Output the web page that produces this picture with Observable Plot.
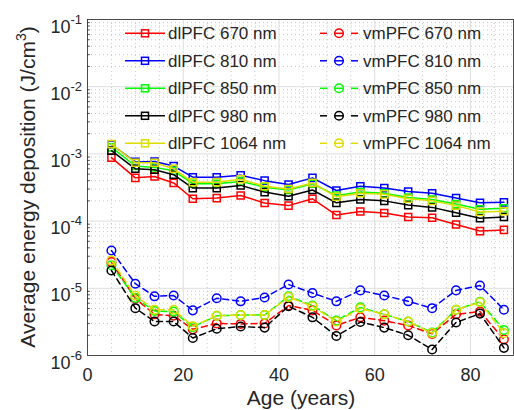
<!DOCTYPE html>
<html><head><meta charset="utf-8">
<script src="https://cdn.jsdelivr.net/npm/d3@7"></script>
<script src="https://cdn.jsdelivr.net/npm/@observablehq/plot@0.6"></script>
<style>
html,body{margin:0;padding:0;background:#fff;}
#chart{width:514px;height:410px;}
</style>
</head><body><div id="chart"></div>
<script>
const ages = [5,10,14,18,22,27,32,37,42,47,52,57,62,67,72,77,82,87];

const dl670  = [8.8e-4,4.4e-4,4.6e-4,3.7e-4,2.15e-4,2.2e-4,2.4e-4,1.86e-4,1.7e-4,2.15e-4,1.23e-4,1.39e-4,1.32e-4,1.15e-4,1.12e-4,8.9e-5,7.1e-5,7.4e-5];
const dl810  = [1.38e-3,7.6e-4,7.7e-4,6.6e-4,4.5e-4,4.5e-4,4.8e-4,4.0e-4,3.5e-4,4.4e-4,2.85e-4,3.3e-4,3.1e-4,2.75e-4,2.6e-4,2.2e-4,1.87e-4,1.9e-4];
const dl850  = [1.25e-3,6.6e-4,6.3e-4,5.6e-4,3.6e-4,3.6e-4,3.9e-4,3.2e-4,2.9e-4,3.6e-4,2.4e-4,2.7e-4,2.6e-4,2.25e-4,2.1e-4,1.8e-4,1.5e-4,1.55e-4];
const dl980  = [1.12e-3,6.0e-4,5.8e-4,4.9e-4,3.1e-4,3.1e-4,3.4e-4,2.7e-4,2.35e-4,2.9e-4,1.87e-4,2.1e-4,2.0e-4,1.73e-4,1.6e-4,1.33e-4,1.1e-4,1.15e-4];
const dl1064 = [1.4e-3,7.4e-4,7.4e-4,6.0e-4,3.8e-4,3.8e-4,4.2e-4,3.3e-4,3.0e-4,3.7e-4,2.3e-4,2.6e-4,2.5e-4,2.15e-4,2.0e-4,1.7e-4,1.37e-4,1.4e-4];

const vm670  = [2.45e-5,7.0e-6,4.1e-6,3.9e-6,2.45e-6,3.0e-6,2.95e-6,3.0e-6,5.55e-6,4.7e-6,2.8e-6,3.7e-6,3.3e-6,2.8e-6,2.1e-6,4.1e-6,4.5e-6,1.74e-6];
const vm810  = [3.65e-5,1.17e-5,7.6e-6,7.8e-6,4.7e-6,7.1e-6,6.4e-6,7.3e-6,1.14e-5,8.5e-6,6.4e-6,9.3e-6,7.8e-6,6.4e-6,5.06e-6,9.3e-6,1.1e-5,4.8e-6];
const vm850  = [2.2e-5,7.2e-6,4.6e-6,4.5e-6,2.65e-6,3.9e-6,4.0e-6,4.0e-6,7.6e-6,5.55e-6,3.3e-6,5.2e-6,4.1e-6,3.2e-6,2.2e-6,4.8e-6,6.3e-6,2.4e-6];
const vm980  = [1.84e-5,5.06e-6,3.2e-6,3.2e-6,1.82e-6,2.5e-6,2.7e-6,2.6e-6,5.4e-6,3.7e-6,1.95e-6,3.15e-6,2.6e-6,2.0e-6,1.23e-6,3.1e-6,4.2e-6,1.3e-6];
const vm1064 = [2.6e-5,7.8e-6,4.8e-6,4.8e-6,2.73e-6,3.9e-6,4.0e-6,4.0e-6,7.4e-6,5.4e-6,3.2e-6,5.0e-6,4.1e-6,3.2e-6,2.15e-6,4.8e-6,6.2e-6,2.15e-6];

const dlNames = ["dlPFC 670 nm","dlPFC 810 nm","dlPFC 850 nm","dlPFC 980 nm","dlPFC 1064 nm"];
const vmNames = ["vmPFC 670 nm","vmPFC 810 nm","vmPFC 850 nm","vmPFC 980 nm","vmPFC 1064 nm"];
const colors = ["#ff0000","#0000ff","#00ff00","#000000","#dddd00"];

const xTicks = [0,20,40,60,80];
const xMinor = [5,10,15,25,30,35,45,50,55,65,70,75,85];
const yExps = [-6,-5,-4,-3,-2,-1];

const dlSeries = [dl670, dl810, dl850, dl980, dl1064];
const vmSeries = [vm670, vm810, vm850, vm980, vm1064];

const yTicks = yExps.map(e => Math.pow(10, e));
const yMinor = [];
for (const e of yExps.slice(0, -1)) for (let k = 2; k <= 9; k++) yMinor.push(k * Math.pow(10, e));

function rows(vals) { return ages.map((a, i) => ({age: a, value: vals[i]})); }

const FONT = "'Liberation Sans', Arial, Helvetica, sans-serif";
const TXT = "#262626";

const marks = [
  Plot.ruleX(xMinor, {stroke: "#bdbdbd", strokeWidth: 0.8, strokeDasharray: "1,3"}),
  Plot.ruleY(yMinor, {stroke: "#bdbdbd", strokeWidth: 0.8, strokeDasharray: "1,3"}),
  Plot.ruleX(xTicks, {stroke: "#dedede", strokeWidth: 1}),
  Plot.ruleY(yTicks, {stroke: "#dedede", strokeWidth: 1}),
  Plot.ruleY(yMinor, {x1: 0, x2: 0.6, stroke: TXT, strokeWidth: 0.8}),
  Plot.frame({stroke: TXT, strokeWidth: 0.8})
];
dlSeries.forEach((s, i) => {
  marks.push(Plot.line(rows(s), {x: "age", y: "value", stroke: colors[i], strokeWidth: 1.5}));
  marks.push(Plot.dot(rows(s), {x: "age", y: "value", symbol: "square", r: 4, stroke: colors[i], fill: "none", strokeWidth: 1.5}));
});
vmSeries.forEach((s, i) => {
  marks.push(Plot.line(rows(s), {x: "age", y: "value", stroke: colors[i], strokeWidth: 1.5, strokeDasharray: "6,4"}));
  marks.push(Plot.dot(rows(s), {x: "age", y: "value", symbol: "circle", r: 4.3, stroke: colors[i], fill: "none", strokeWidth: 1.5}));
});
marks.push(Plot.axisX(xTicks, {tickSize: 0, tickPadding: 13, fontSize: 18, label: null, tickFormat: d => String(d)}));

const chart = Plot.plot({
  width: 514, height: 410,
  marginLeft: 87, marginRight: 1, marginTop: 19, marginBottom: 55,
  style: {fontFamily: FONT, color: TXT, background: "#fff"},
  x: {domain: [0, 89], label: null},
  y: {type: "log", domain: [1e-6, 1e-1], label: null, axis: null},
  marks
});
document.getElementById("chart").appendChild(chart);

const svg = d3.select(chart);
const ys = chart.scale("y");
const xs = chart.scale("x");

// y tick labels with superscripts
const yl = svg.append("g").attr("font-family", FONT).attr("fill", TXT).attr("text-anchor", "end");
yTicks.forEach((v, i) => {
  const t = yl.append("text").attr("x", 82).attr("y", ys.apply(v) + 13.5).attr("font-size", 18);
  t.append("tspan").text("10");
  t.append("tspan").attr("font-size", 13).attr("dy", -9).text(String(yExps[i]));
});

// axis titles
svg.append("text").attr("x", (xs.apply(0) + xs.apply(89)) / 2 + 1).attr("y", 405)
  .attr("text-anchor", "middle").attr("font-size", 21).attr("font-family", FONT).attr("fill", TXT)
  .text("Age (years)");
const yt = svg.append("text").attr("transform", `translate(35,${(ys.apply(1e-6) + ys.apply(1e-1)) / 2}) rotate(-90)`)
  .attr("text-anchor", "middle").attr("font-size", 21).attr("font-family", FONT).attr("fill", TXT);
yt.append("tspan").text("Average energy deposition (J/cm");
yt.append("tspan").attr("font-size", 14).attr("dy", -9).text("3");
yt.append("tspan").attr("dy", 9).text(")");

// legend
const lg = svg.append("g").attr("font-family", FONT).attr("font-size", 17).attr("fill", TXT).attr("text-anchor", "start");
const rowY = [33.3, 60.8, 88.3, 115.8, 143.3];
dlNames.forEach((n, i) => {
  const y = rowY[i];
  lg.append("line").attr("x1", 125).attr("x2", 165).attr("y1", y).attr("y2", y).attr("stroke", colors[i]).attr("stroke-width", 1.5);
  lg.append("rect").attr("x", 145 - 3.5).attr("y", y - 3.5).attr("width", 7).attr("height", 7).attr("fill", "none").attr("stroke", colors[i]).attr("stroke-width", 1.5);
  lg.append("text").attr("x", 168).attr("y", y + 6).text(n);
});
vmNames.forEach((n, i) => {
  const y = rowY[i];
  lg.append("line").attr("x1", 320).attr("x2", 327).attr("y1", y).attr("y2", y).attr("stroke", colors[i]).attr("stroke-width", 1.5);
  lg.append("line").attr("x1", 351).attr("x2", 358).attr("y1", y).attr("y2", y).attr("stroke", colors[i]).attr("stroke-width", 1.5);
  lg.append("line").attr("x1", 335).attr("x2", 343).attr("y1", y).attr("y2", y).attr("stroke", colors[i]).attr("stroke-width", 1.5);
  lg.append("circle").attr("cx", 339).attr("cy", y).attr("r", 4.3).attr("fill", "none").attr("stroke", colors[i]).attr("stroke-width", 1.5);
  lg.append("text").attr("x", 363).attr("y", y + 6).text(n);
});
</script>
</body></html>
